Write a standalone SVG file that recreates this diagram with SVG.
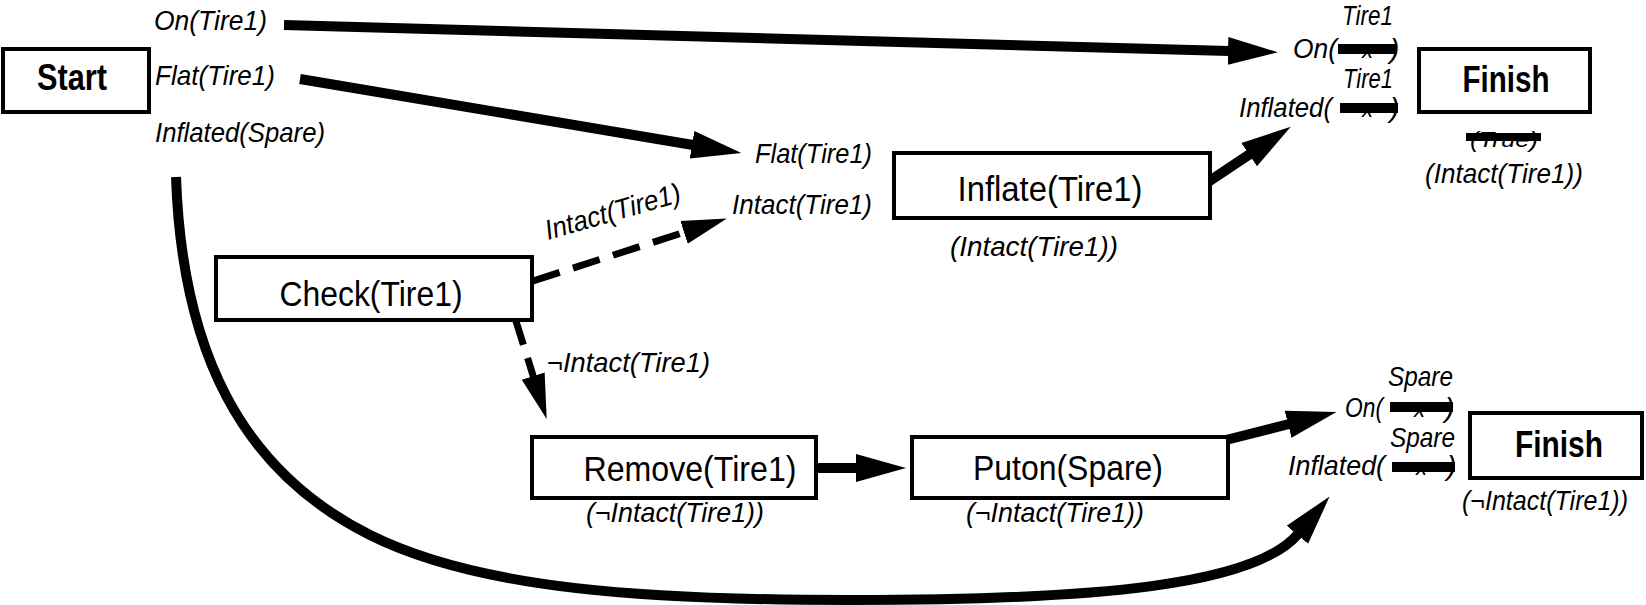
<svg xmlns="http://www.w3.org/2000/svg" width="1646" height="605" viewBox="0 0 1646 605">
  <style>
    text { font-family: "Liberation Sans", Arial, Helvetica, sans-serif; fill: #000; }
    .box { fill: #fff; stroke: #000; stroke-width: 4; }
    .name { font-size: 35px; text-anchor: middle; }
    .bold { font-size: 37px; font-weight: bold; text-anchor: middle; }
    .lit { font-size: 28px; font-style: italic; }
    .small { font-size: 22px; font-style: italic; }
    .edge { fill: none; stroke: #000; stroke-width: 10; }
    .dash { fill: none; stroke: #000; stroke-width: 7; stroke-dasharray: 28 14; }
    .bar { fill: #000; }
  </style>
  <defs>
    <marker id="ah" viewBox="0 -15 52 30" markerWidth="52" markerHeight="30" refX="1" refY="0" markerUnits="userSpaceOnUse" orient="auto">
      <path d="M0,-14 L50,0 L0,14 z" fill="#000"/>
    </marker>
    <marker id="ahs" viewBox="0 -13 47 26" markerWidth="47" markerHeight="26" refX="1" refY="0" markerUnits="userSpaceOnUse" orient="auto">
      <path d="M0,-12 L45,0 L0,12 z" fill="#000"/>
    </marker>
  </defs>

  <!-- causal links and ordering -->
  <g id="connectors">
    <line class="edge" x1="284" y1="25" x2="1229" y2="51" marker-end="url(#ah)"/>
    <line class="edge" x1="300" y1="79" x2="693" y2="145" marker-end="url(#ah)"/>
    <line class="edge" x1="1208" y1="182" x2="1250" y2="154" marker-end="url(#ah)"/>
    <line class="edge" x1="816" y1="468" x2="857" y2="468" marker-end="url(#ah)"/>
    <line class="edge" x1="1226" y1="440" x2="1289" y2="424" marker-end="url(#ah)"/>
    <path class="edge" d="M176,177 C182,350 240,470 370,535 C480,590 650,600 850,600 C1100,600 1255,585 1298,534" marker-end="url(#ah)"/>
    <line class="dash" x1="533" y1="281" x2="685" y2="232" marker-end="url(#ahs)"/>
    <line class="dash" x1="515" y1="318" x2="533.5" y2="377" marker-end="url(#ahs)"/>
    <text class="lit" x="548" y="240" textLength="140" lengthAdjust="spacingAndGlyphs" transform="rotate(-16 548 240)">Intact(Tire1)</text>
    <text class="lit" x="547" y="372" textLength="163" lengthAdjust="spacingAndGlyphs">¬Intact(Tire1)</text>
  </g>

  <g id="start">
    <rect class="box" x="3" y="49" width="146" height="63"/>
    <text class="bold" x="72" y="90" textLength="70" lengthAdjust="spacingAndGlyphs">Start</text>
    <text class="lit" x="154" y="30" textLength="113" lengthAdjust="spacingAndGlyphs">On(Tire1)</text>
    <text class="lit" x="155" y="85" textLength="120" lengthAdjust="spacingAndGlyphs">Flat(Tire1)</text>
    <text class="lit" x="155" y="142" textLength="170" lengthAdjust="spacingAndGlyphs">Inflated(Spare)</text>
  </g>

  <g id="inflate">
    <text class="lit" x="755" y="163" textLength="117" lengthAdjust="spacingAndGlyphs">Flat(Tire1)</text>
    <text class="lit" x="732" y="214" textLength="140" lengthAdjust="spacingAndGlyphs">Intact(Tire1)</text>
    <rect class="box" x="894" y="153" width="316" height="65"/>
    <text class="name" x="1050" y="201" textLength="185" lengthAdjust="spacingAndGlyphs">Inflate(Tire1)</text>
    <text class="lit" x="950" y="256" textLength="168" lengthAdjust="spacingAndGlyphs">(Intact(Tire1))</text>
  </g>

  <g id="check">
    <rect class="box" x="216" y="257" width="316" height="63"/>
    <text class="name" x="371" y="306" textLength="183" lengthAdjust="spacingAndGlyphs">Check(Tire1)</text>
  </g>

  <g id="remove">
    <rect class="box" x="532" y="437" width="284" height="61"/>
    <text class="name" x="690" y="481" textLength="213" lengthAdjust="spacingAndGlyphs">Remove(Tire1)</text>
    <text class="lit" x="586" y="522" textLength="178" lengthAdjust="spacingAndGlyphs">(¬Intact(Tire1))</text>
  </g>

  <g id="puton">
    <rect class="box" x="912" y="437" width="316" height="61"/>
    <text class="name" x="1068" y="480" textLength="190" lengthAdjust="spacingAndGlyphs">Puton(Spare)</text>
    <text class="lit" x="966" y="522" textLength="178" lengthAdjust="spacingAndGlyphs">(¬Intact(Tire1))</text>
  </g>

  <g id="finish-top">
    <text class="lit" x="1293" y="58" textLength="44" lengthAdjust="spacingAndGlyphs">On(</text>
    <text class="small" x="1362" y="58">x</text>
    <text class="lit" x="1390" y="58">)</text>
    <rect class="bar" x="1338" y="44" width="59" height="10"/>
    <text class="lit" x="1342" y="25" textLength="51" lengthAdjust="spacingAndGlyphs">Tire1</text>
    <text class="lit" x="1239" y="117" textLength="93" lengthAdjust="spacingAndGlyphs">Inflated(</text>
    <text class="small" x="1362" y="117">x</text>
    <text class="lit" x="1390" y="117">)</text>
    <rect class="bar" x="1340" y="103" width="58" height="10"/>
    <text class="lit" x="1343" y="88" textLength="50" lengthAdjust="spacingAndGlyphs">Tire1</text>
    <rect class="box" x="1419" y="49" width="171" height="63"/>
    <text class="bold" x="1506" y="92" textLength="87" lengthAdjust="spacingAndGlyphs">Finish</text>
    <text class="small" x="1470" y="147" textLength="68" lengthAdjust="spacingAndGlyphs">(True)</text>
    <rect class="bar" x="1466" y="133" width="75" height="8"/>
    <text class="lit" x="1425" y="183" textLength="158" lengthAdjust="spacingAndGlyphs">(Intact(Tire1))</text>
  </g>

  <g id="finish-bottom">
    <text class="lit" x="1345" y="417" textLength="38" lengthAdjust="spacingAndGlyphs">On(</text>
    <text class="small" x="1414" y="417">x</text>
    <text class="lit" x="1445" y="417">)</text>
    <rect class="bar" x="1390" y="402" width="63" height="10"/>
    <text class="lit" x="1388" y="386" textLength="65" lengthAdjust="spacingAndGlyphs">Spare</text>
    <text class="lit" x="1288" y="475" textLength="97" lengthAdjust="spacingAndGlyphs">Inflated(</text>
    <text class="small" x="1416" y="475">x</text>
    <text class="lit" x="1447" y="475">)</text>
    <rect class="bar" x="1392" y="462" width="63" height="10"/>
    <text class="lit" x="1390" y="447" textLength="65" lengthAdjust="spacingAndGlyphs">Spare</text>
    <rect class="box" x="1470" y="413" width="172" height="65"/>
    <text class="bold" x="1559" y="457" textLength="88" lengthAdjust="spacingAndGlyphs">Finish</text>
    <text class="lit" x="1462" y="510" textLength="166" lengthAdjust="spacingAndGlyphs">(¬Intact(Tire1))</text>
  </g>
</svg>
